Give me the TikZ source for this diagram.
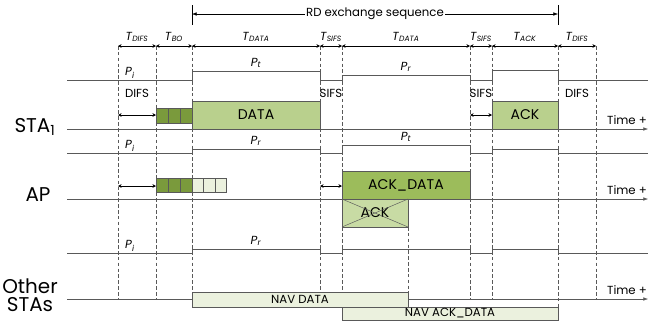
\documentclass[tikz,border=0pt]{standalone}
\usepackage{fontspec}
\setmainfont{Poppins}
\usetikzlibrary{arrows.meta,positioning}
\definecolor{datagreen}{HTML}{B9D08D}
\definecolor{ackgreen}{HTML}{9CBC5B}
\definecolor{bogreen}{HTML}{7A9A3C}
\definecolor{palegreen}{HTML}{EBF1DE}
\definecolor{crossgreen}{HTML}{C8DBA4}
\definecolor{edge}{HTML}{595959}
\newcommand{\tlab}[1]{\textit{T}\textsubscript{\textit{\fontsize{6.5}{6.5}\selectfont #1}}}
\newcommand{\plab}[1]{\textit{P}\textsubscript{\textit{#1}}}
\begin{document}
\begin{tikzpicture}[x=0.3mm,y=-0.3mm,
	every node/.style={inner sep=1pt},
	big/.style={font=\fontsize{17}{17}\selectfont},
	boxtext/.style={font=\fontsize{12}{12}\selectfont},
	small/.style={font=\fontsize{10}{10}\selectfont},
	dur/.style={thin, {Stealth[length=3pt,width=3pt]}-{Stealth[length=3pt,width=3pt]}},
	gap/.style={thin, {Stealth[length=3pt,width=3pt]}-{Stealth[length=3pt,width=3pt]}},
	axis/.style={thin, edge, -{Latex[length=4pt,width=3pt]}},
	wave/.style={thin, edge},
	guide/.style={thin, densely dashed, edge},
	frame/.style={draw=edge, thin}
	]
	\useasboundingbox (0,0) rectangle (650,327);

	% RD exchange sequence
	\draw[thin] (192,5) -- (192,25);
	\draw[thin] (558,5) -- (558,25);
	\coordinate (rdl) at (192,14);
	\coordinate (rdr) at (558,14);
	\node[small] (rd) at (375,14) {RD exchange sequence};
	\draw[thin,-{Latex[length=4pt,width=3pt]}] (rd) -- (rdl);
	\draw[thin,-{Latex[length=4pt,width=3pt]}] (rd) -- (rdr);

	% dashed guides
	\foreach \x/\e in {118/299,156/299,192/292,320/299,342/307,470/299,492/299,558/307,596/299}
		\draw[guide] (\x,46) -- (\x,\e);
	\draw[guide] (408,227) -- (408,292);

	% durations
	\foreach \x [count=\i] in {118,156,192,320,342,470,492,558,596}
		\coordinate (t\i) at (\x,46);
	\foreach \i/\j in {1/2,2/3,3/4,4/5,5/6,6/7,7/8,8/9}
		\draw[dur] (t\i) -- (t\j);
	\node[small] (tdifs) at (137,37) {\tlab{DIFS}};
	\node[small] (tbo) at (174,37) {\tlab{BO}};
	\node[small] (tdata) at (256,37) {\tlab{DATA}};
	\node[small] (tsifs) at (331,37) {\tlab{SIFS}};
	\node[small] (tdata2) at (406,37) {\tlab{DATA}};
	\node[small] (tsifs2) at (481,37) {\tlab{SIFS}};
	\node[small] (tack) at (525,37) {\tlab{ACK}};
	\node[small] (tdifs2) at (577,37) {\tlab{DIFS}};

	% STA1
	\draw[wave] (67,80) -- (192,80) -- (192,71) -- (320,71) -- (320,80) -- (342,80) -- (342,75)
		-- (470,75) -- (470,80) -- (492,80) -- (492,70) -- (558,70) -- (558,80) -- (648,80);
	\node[small] (pi1) at (130,73) {\plab{i}};
	\node[small] (pt1) at (256,63) {\plab{t}};
	\node[small] (pr1) at (406,67) {\plab{r}};
	\node[small] (difs1) at (137,93) {DIFS};
	\node[small] (sifs1) at (331,93) {SIFS};
	\node[small] (sifs2) at (481,93) {SIFS};
	\node[small] (difs2) at (577,93) {DIFS};
	\coordinate (s1a) at (118,115);
	\coordinate (s1b) at (156,115);
	\draw[gap] (s1a) -- (s1b);
	\coordinate (s1c) at (470,115);
	\coordinate (s1d) at (492,115);
	\draw[gap] (s1c) -- (s1d);
	\foreach \i in {0,1,2}
		\draw[frame, fill=bogreen] ({156+12*\i},108) rectangle ++(12,15);
	\draw[frame, fill=datagreen] (192,101) rectangle (320,129);
	\node[boxtext] (data) at (256,115) {DATA};
	\draw[frame, fill=datagreen] (492,101) rectangle (558,129);
	\node[boxtext] (ack) at (525,115) {ACK};
	\coordinate (ax1s) at (67,129);
	\coordinate (ax1e) at (648,129);
	\draw[axis] (ax1s) -- (ax1e);
	\node[small] (time1) at (627,120) {Time +};
	\node[big] (sta) at (35,127) {STA\textsubscript{1}};

	% AP
	\draw[wave] (67,153) -- (192,153) -- (192,149) -- (320,149) -- (320,153) -- (342,153) -- (342,145)
		-- (470,145) -- (470,153) -- (492,153) -- (492,149) -- (558,149) -- (558,153) -- (648,153);
	\node[small] (pi2) at (130,146) {\plab{i}};
	\node[small] (pr2) at (256,141) {\plab{r}};
	\node[small] (pt2) at (406,137) {\plab{t}};
	\coordinate (s2a) at (118,186);
	\coordinate (s2b) at (156,186);
	\draw[gap] (s2a) -- (s2b);
	\coordinate (s2c) at (320,186);
	\coordinate (s2d) at (342,186);
	\draw[gap] (s2c) -- (s2d);
	\foreach \i in {0,1,2}
		\draw[frame, fill=bogreen] ({156+12*\i},178) rectangle ++(12,14);
	\foreach \i in {0,1,2}
		\draw[frame, fill=palegreen] ({192+11.4*\i},178) rectangle ++(11.4,14);
	\draw[frame, fill=ackgreen] (342,171) rectangle (470,199);
	\node[boxtext] (ackdata) at (406,185) {ACK\_DATA};
	\draw[frame, fill=crossgreen] (342,199) rectangle (408,227);
	\node[boxtext] (lostack) at (375,213) {ACK};
	\draw[edge, thin] (342,199) -- (408,227);
	\draw[edge, thin] (342,227) -- (408,199);
	\coordinate (ax2s) at (67,199);
	\coordinate (ax2e) at (648,199);
	\draw[axis] (ax2s) -- (ax2e);
	\node[small] (time2) at (627,190) {Time +};
	\node[big] (ap) at (38,195) {AP};

	% Other STAs
	\draw[wave] (67,253) -- (192,253) -- (192,249) -- (320,249) -- (320,253) -- (342,253) -- (342,249)
		-- (470,249) -- (470,253) -- (492,253) -- (492,249) -- (558,249) -- (558,253) -- (648,253);
	\node[small] (pi3) at (130,246) {\plab{i}};
	\node[small] (pr3) at (256,241) {\plab{r}};
	\coordinate (ax3s) at (67,299);
	\coordinate (ax3e) at (648,299);
	\draw[axis] (ax3s) -- (ax3e);
	\draw[frame, fill=palegreen] (192,292) rectangle (408,307);
	\node[small] (navdata) at (300,299.5) {NAV DATA};
	\draw[frame, fill=palegreen] (342,307) rectangle (558,320);
	\node[small] (navack) at (450,313.5) {NAV ACK\_DATA};
	\node[small] (time3) at (627,290) {Time +};
	\node[big] (other) at (30,286) {Other};
	\node[big, below=1pt of other] (stas) {STAs};
\end{tikzpicture}
\end{document}
